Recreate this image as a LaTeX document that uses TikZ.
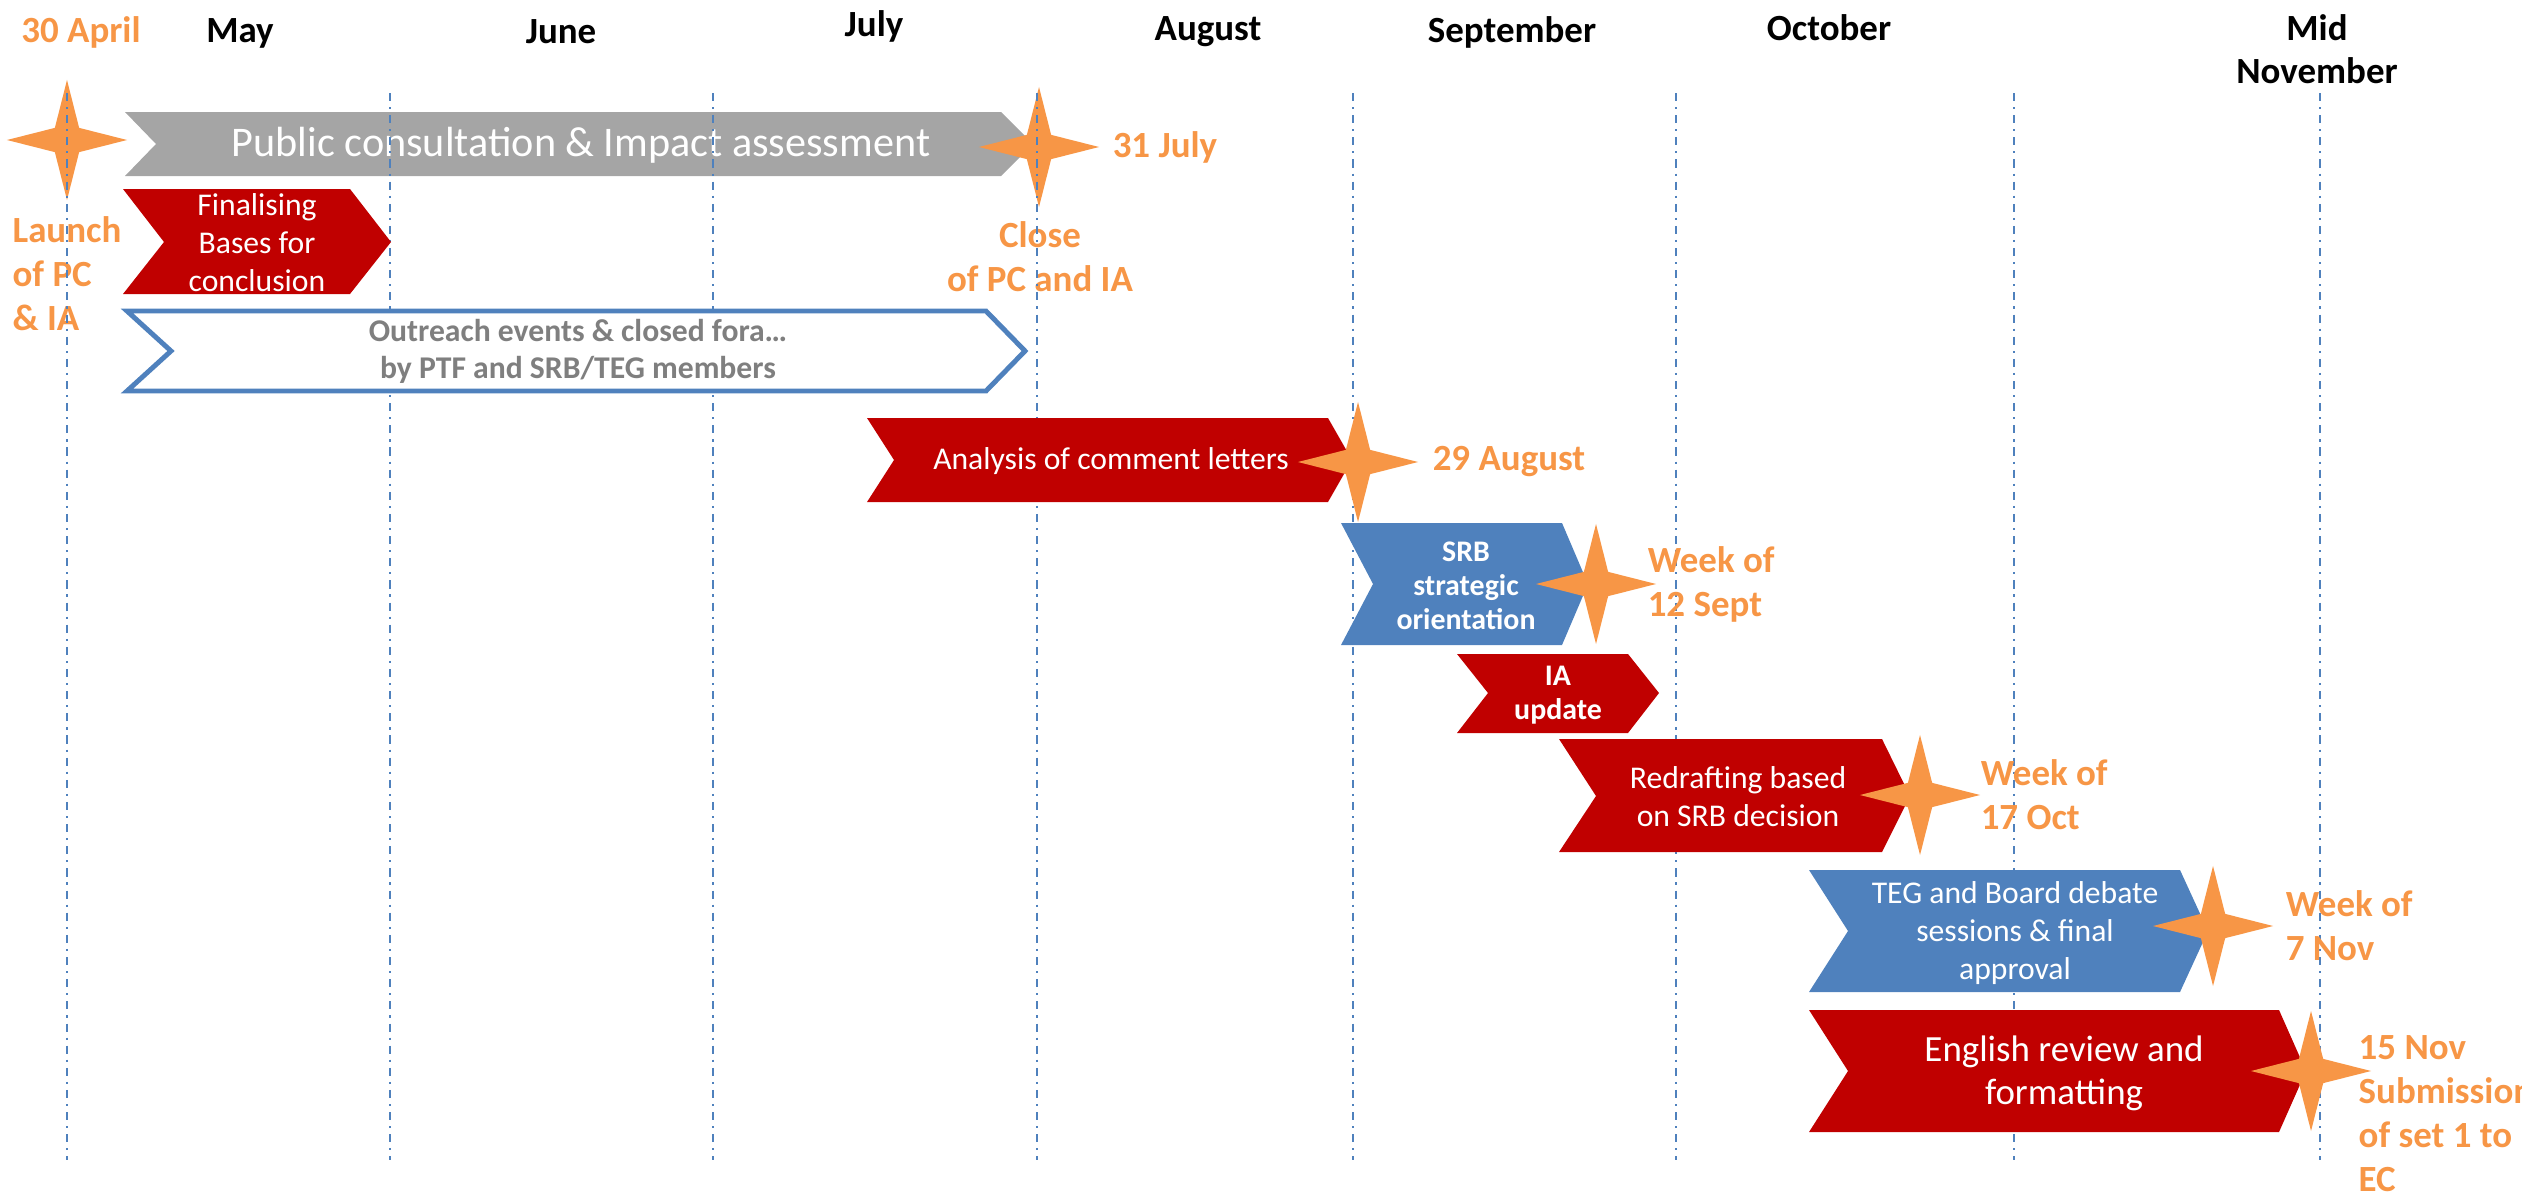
\documentclass[tikz,border=0pt]{standalone}
\usepackage{fontspec}
\setmainfont{Carlito}
\usetikzlibrary{shapes.geometric,positioning}
\definecolor{starorange}{HTML}{F79646}
\definecolor{barred}{HTML}{C00000}
\definecolor{barblue}{HTML}{4F81BD}
\definecolor{bargrey}{HTML}{A5A5A5}
\definecolor{textgrey}{HTML}{7F7F7F}

\begin{document}
\begin{tikzpicture}[x=0.01cm,y=-0.01cm,
  monthlbl/.style={font=\fontsize{10.5}{12.2}\selectfont\bfseries,anchor=base,inner sep=0pt},
  datelbl/.style={font=\fontsize{10.5}{12.5}\selectfont\bfseries,color=starorange,align=left,inner sep=0pt},
  barlbl/.style={font=\fontsize{9}{10.8}\selectfont,color=white,align=center,inner sep=0pt},
  ostar/.style={star,star points=4,star point ratio=3.5,minimum size=1.2cm,inner sep=0pt,outer sep=0pt,fill=starorange},
  monthline/.style={barblue,line width=0.7pt,dash pattern=on 2.3pt off 1.7pt on 0.6pt off 1.7pt}]
  \useasboundingbox (0,0) rectangle (2522,1203);

  % Public consultation bar
  \fill[bargrey] (125,112) -- (1001,112) -- (1033,144) -- (1001,176) -- (125,176) -- (156,144) -- cycle;
  \node[barlbl,font=\fontsize{12}{14}\selectfont] (pubtxt) at (581,145) {Public consultation \& Impact assessment};

  % SRB strategic orientation
  \fill[barblue] (1341,523) -- (1562,523) -- (1588,584) -- (1562,645) -- (1341,645) -- (1373,584) -- cycle;
  \node[barlbl,font=\fontsize{8.5}{9.7}\selectfont\bfseries] (srbtxt) at (1466,586) {SRB\\strategic\\orientation};

  % Launch and close stars
  \node[ostar] (s30apr) at (67,140) {};
  \node[ostar] (s31jul) at (1039,147) {};

  % Month labels
  \node[monthlbl,color=starorange] (apr30) at (81,42) {30 April};
  \node[monthlbl] (may) at (240,42) {May};
  \node[monthlbl] (jun) at (561,44) {June};
  \node[monthlbl] (jul) at (874,37) {July};
  \node[monthlbl] (aug) at (1208,41) {August};
  \node[monthlbl] (sep) at (1512,42) {September};
  \node[monthlbl] (oct) at (1829,40) {October};
  \node[monthlbl,align=center] (midnov) at (2317,83) {Mid\\November};

  % Milestone labels
  \node[datelbl] (launch) at (67,274) {Launch\\of PC\\\& IA};
  \node[datelbl,align=center] (close) at (1040,257) {Close\\of PC and IA};
  \node[datelbl,right=0.13cm of s31jul] (d31jul) {31 July};

  % Month grid
  \foreach \mx in {67,390,713,1037,1353,1676,2014,2320}
    \draw[monthline] (\mx,93) -- (\mx,1160);

  % Finalising bases
  \fill[barred] (123,189) -- (350,189) -- (391,242) -- (350,294) -- (123,294) -- (164,242) -- cycle;
  \node[barlbl] (fintxt) at (257,243) {Finalising\\Bases for\\conclusion};

  % Outreach events
  \draw[barblue,line width=1.4pt,fill=white] (127,311) -- (986,311) -- (1025,351) -- (986,391) -- (127,391) -- (171,351) -- cycle;
  \node[barlbl,color=textgrey,font=\fontsize{9}{10.5}\selectfont\bfseries] (outtxt) at (578,351) {Outreach events \& closed fora\ldots\\by PTF and SRB/TEG members};

  % Analysis of comment letters
  \fill[barred] (867,418) -- (1328,418) -- (1352,460) -- (1328,502) -- (867,502) -- (894,460) -- cycle;
  \node[barlbl] (anatxt) at (1111,461) {Analysis of comment letters};

  % IA update
  \fill[barred] (1457,654) -- (1628,654) -- (1659,693) -- (1628,733) -- (1457,733) -- (1488,693) -- cycle;
  \node[barlbl,font=\fontsize{8.5}{9.7}\selectfont\bfseries] (iatxt) at (1558,695) {IA\\update};

  % Redrafting
  \fill[barred] (1559,739) -- (1882,739) -- (1910,796) -- (1882,852) -- (1559,852) -- (1596,796) -- cycle;
  \node[barlbl] (redtxt) at (1738,797) {Redrafting based\\on SRB decision};

  % TEG and Board
  \fill[barblue] (1809,870) -- (2180,870) -- (2208,931) -- (2180,992) -- (1809,992) -- (1848,931) -- cycle;
  \node[barlbl] (tegtxt) at (2015,933) {TEG and Board debate\\sessions \& final\\approval};

  % English review
  \fill[barred] (1809,1010) -- (2279,1010) -- (2306,1071) -- (2279,1132) -- (1809,1132) -- (1848,1071) -- cycle;
  \node[barlbl,font=\fontsize{10.5}{12.3}\selectfont] (engtxt) at (2064,1073) {English review and\\formatting};

  % Later milestones
  \node[ostar] (s29aug) at (1358,462) {};
  \node[ostar] (s12sep) at (1596,584) {};
  \node[ostar] (s17oct) at (1920,795) {};
  \node[ostar] (s7nov) at (2213,926) {};
  \node[ostar] (s15nov) at (2311,1071) {};
  \node[datelbl,right=0.14cm of s29aug] (d29aug) {29 August};
  \node[datelbl,right=-0.09cm of s12sep] (d12sep) {Week of\\12 Sept};
  \node[datelbl,right=0cm of s17oct] (d17oct) {Week of\\17 Oct};
  \node[datelbl,right=0.12cm of s7nov] (d7nov) {Week of\\7 Nov};
  \node[datelbl,anchor=west] (d15nov) at (2358,1114) {15 Nov\\Submission\\of set 1 to\\EC};
\end{tikzpicture}
\end{document}
